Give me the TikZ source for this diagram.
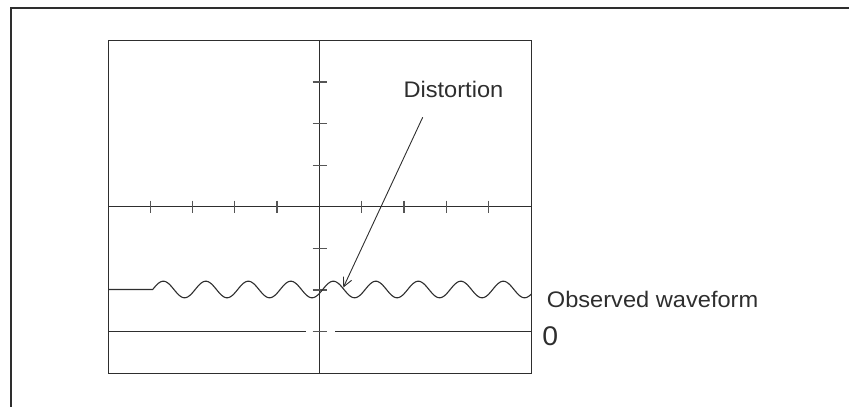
\documentclass[tikz,border=0pt]{standalone}
\usepackage{fontspec}
\setmainfont{Liberation Sans}
\usetikzlibrary{arrows.meta}
\definecolor{ink}{HTML}{2E2E2E}
\definecolor{tickc}{HTML}{555555}
\begin{document}
\begin{tikzpicture}[x=1pt,y=-1pt,
  frameline/.style={draw=ink,line width=2.2pt},
  gridline/.style={draw=ink,line width=1.2pt},
  tickline/.style={draw=tickc,line width=1.2pt},
  wave/.style={draw=ink,line width=1.1pt,line join=round},
  pointer/.style={draw=ink,line width=0.9pt,-{Straight Barb[length=9pt,width=9pt]}},
  lbl/.style={inner sep=0pt,text=ink,font=\fontsize{22.5}{26}\selectfont}]
\useasboundingbox (0,0) rectangle (849,407);
% outer frame (open on right and bottom)
\draw[frameline] (11,407) -- (11,8) -- (849,8);
% screen
\draw[gridline] (108.3,40.7) rectangle (531.7,373.3);
\draw[gridline] (319.3,40.7) -- (319.3,373.3);
\draw[gridline] (108.3,206.7) -- (531.7,206.7);
\foreach \i in {-4,-3,-2,-1,1,2,3,4}
  \draw[tickline] ({319.3+42.3*\i},200.7) -- ++(0,12);
\foreach \j in {-3,-2,-1,1,2,3}
  \draw[tickline] (312.7,{206.7+41.6*\j}) -- ++(14,0);
% zero level line
\draw[gridline] (108.3,331.7) -- (305.7,331.7);
\draw[gridline] (335,331.7) -- (531.7,331.7);
% waveform
\draw[wave] (108.3,289.5) -- (152.7,289.5)
  -- plot[domain=152.7:531.7,samples=260] (\x,{289.5-8.3*sin(8.4706*(\x-152.7))});
% labels
\node[lbl,anchor=base west] (dist) at (403.3,97.5) {\scalebox{1.05}[1]{Distortion}};
\node[lbl,anchor=base west] (obs) at (546.7,307.7) {\scalebox{1.05}[1]{Observed waveform}};
\node[lbl,anchor=center,font=\fontsize{27}{30}\selectfont] (zero) at (550.3,336) {\scalebox{1.05}[1]{0}};
% pointer
\coordinate (atail) at (422.7,117.3);
\coordinate (ahead) at (343.3,287.5);
\draw[pointer] (atail) -- (ahead);
\end{tikzpicture}
\end{document}
